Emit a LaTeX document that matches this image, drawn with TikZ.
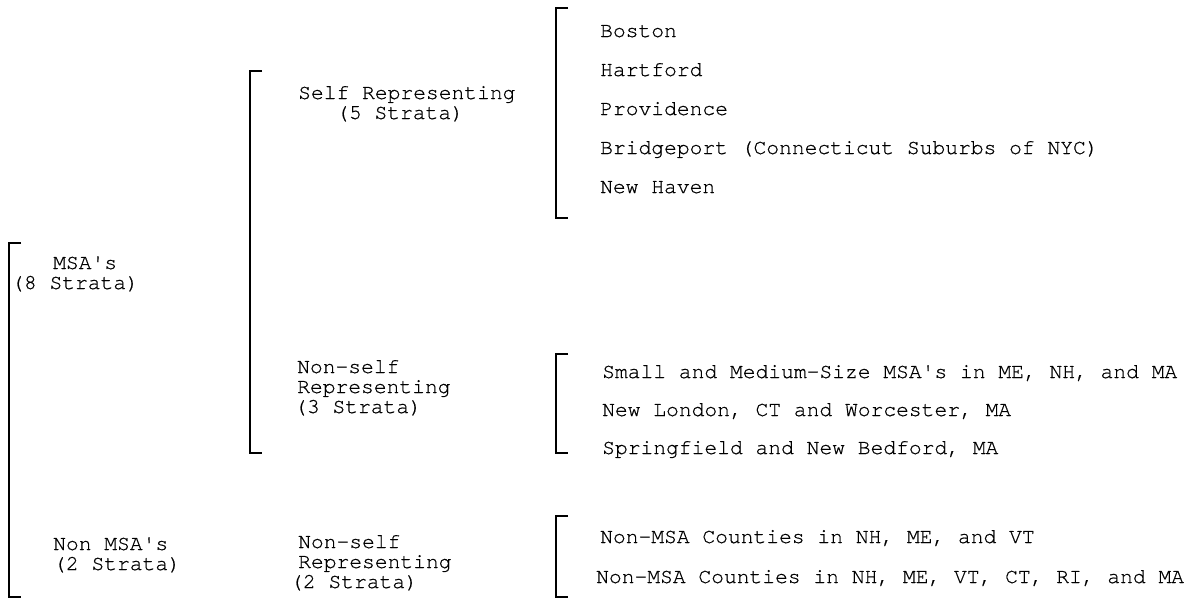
\documentclass[tikz,border=0pt]{standalone}
\usepackage{fontspec}
\setmonofont[Ligatures=NoCommon, FakeBold=0.6]{TeX Gyre Cursor}
\usepackage{tikz}
\usetikzlibrary{positioning}

\begin{document}
\begin{tikzpicture}[x=1pt, y=-1pt,
    brak/.style={line width=1.1pt, line cap=butt},
    txt/.style={anchor=base west, inner sep=0pt, text height=12pt, text depth=2pt,
                font=\fontsize{21.3}{22}\selectfont\ttfamily}]
    \useasboundingbox (0,0) rectangle (1192,600);
    % brackets
    \draw[brak] (21,243) -- (9,243) -- (9,597) -- (21,597);
    \draw[brak] (262,71) -- (250,71) -- (250,453) -- (262,453);
    \draw[brak] (568,8) -- (556,8) -- (556,218) -- (568,218);
    \draw[brak] (568,354) -- (556,354) -- (556,453) -- (568,453);
    \draw[brak] (568,516) -- (556,516) -- (556,597) -- (568,597);
    % first level
    \node[txt] (msa) at (53,269) {MSA's};
    \node[txt] (msaB) at (11,289) {(8 Strata)};
    \node[txt] (nonmsa) at (53,550) {Non MSA's};
    \node[txt] (nonmsaB) at (53,570) {(2 Strata)};
    % second level
    \node[txt] (selfrep) at (298,99) {Self Representing};
    \node[txt] (selfrepB) at (336,119) {(5 Strata)};
    \node[txt] (nsrA) at (297,373) {Non-self};
    \node[txt] (nsrB) at (297,393) {Representing};
    \node[txt] (nsrC) at (294,413) {(3 Strata)};
    \node[txt] (nsrtwoA) at (298,548) {Non-self};
    \node[txt] (nsrtwoB) at (298,568) {Representing};
    \node[txt] (nsrtwoC) at (290,588) {(2 Strata)};
    % third level
    \node[txt] (boston) at (600,37) {Boston};
    \node[txt] (hartford) at (600,76) {Hartford};
    \node[txt] (providence) at (600,115) {Providence};
    \node[txt] (bridgeport) at (600,154) {Bridgeport (Connecticut Suburbs of NYC)};
    \node[txt] (newhaven) at (600,193) {New Haven};
    \node[txt] (smallmsa) at (602,378) {Small and Medium-Size MSA's in ME, NH, and MA};
    \node[txt] (newlondon) at (602,416) {New London, CT and Worcester, MA};
    \node[txt] (springfield) at (602,454) {Springfield and New Bedford, MA};
    \node[txt] (countiesA) at (600,543) {Non-MSA Counties in NH, ME, and VT};
    \node[txt] (countiesB) at (596,583) {Non-MSA Counties in NH, ME, VT, CT, RI, and MA};
\end{tikzpicture}
\end{document}
